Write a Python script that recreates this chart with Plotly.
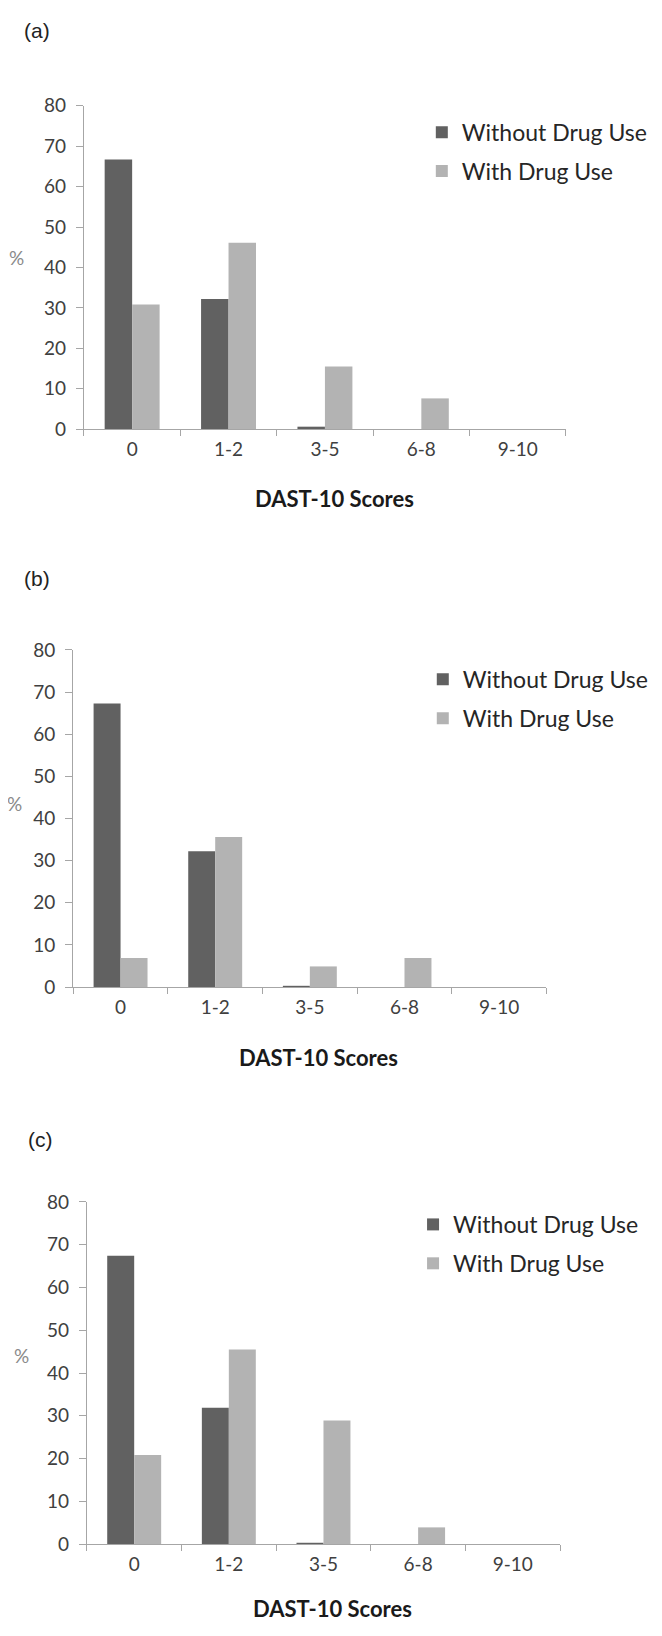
import plotly.graph_objects as go

# The page body has an 8px margin; the figure is sized so the page fits the 662x1636 window.
OFF = 8
W, H = 662 - 2 * OFF, 1636 - 2 * OFF

categories = ["0", "1-2", "3-5", "6-8", "9-10"]
series_names = ["Without Drug Use", "With Drug Use"]

a_without = [66.7, 32.2, 0.6, 0.0, 0.0]
a_with = [30.8, 46.1, 15.5, 7.6, 0.0]

b_without = [67.3, 32.2, 0.3, 0.0, 0.0]
b_with = [6.9, 35.6, 4.9, 6.9, 0.0]

c_without = [67.4, 31.9, 0.3, 0.0, 0.0]
c_with = [20.8, 45.5, 28.9, 3.9, 0.0]

panel_labels = ["(a)", "(b)", "(c)"]
y_ticks = [0, 10, 20, 30, 40, 50, 60, 70, 80]
x_title = "DAST-10 Scores"
y_title = "%"

# page-pixel layout per panel
panels = [
    dict(x0=86, x1=581, yb=423, yt=95, lab=(22, 19), pct=(17, 249), xt=(343, 493), leg=(433, 100)),
    dict(x0=75, x1=561, yb=989, yt=647, lab=(22, 575), pct=(15, 803), xt=(327, 1060), leg=(434, 655)),
    dict(x0=89, x1=575, yb=1554, yt=1207, lab=(26, 1144), pct=(22, 1363), xt=(341, 1619), leg=(424, 1208)),
]
data = [(a_without, a_with), (b_without, b_with), (c_without, c_with)]


def px(x):
    return (x - OFF) / W


def py(y):
    return 1 - (y - OFF) / H


DARK = "#616161"
LIGHT = "#b3b3b3"
AXIS = "#a6a6a6"
TICKFONT = dict(family="Lato", size=19, color="#404040")

fig = go.Figure()
annotations = []
layout = {}
for i, (p, (wo, wi)) in enumerate(zip(panels, data)):
    n = "" if i == 0 else str(i + 1)
    xa, ya = "x" + n, "y" + n
    leg = "legend" + n
    fig.add_trace(go.Bar(x=categories, y=wo, name=series_names[0], marker=dict(color=DARK, line=dict(width=0)),
                         xaxis=xa, yaxis=ya, legend=leg, legendgroup="g1" + n))
    fig.add_trace(go.Bar(x=categories, y=wi, name=series_names[1], marker=dict(color=LIGHT, line=dict(width=0)),
                         xaxis=xa, yaxis=ya, legend=leg, legendgroup="g2" + n))
    layout["xaxis" + n] = dict(domain=[px(p["x0"]), px(p["x1"])], anchor=ya, type="category",
                               showline=True, linecolor=AXIS, linewidth=1.2, ticks="outside",
                               tickson="boundaries", ticklen=6, tickcolor=AXIS, tickwidth=1.2,
                               tickfont=TICKFONT, showgrid=False, zeroline=False,
                               ticklabelstandoff=3, fixedrange=True)
    layout["yaxis" + n] = dict(domain=[py(p["yb"]), py(p["yt"])], anchor=xa, range=[0, 80],
                               tickvals=y_ticks, showline=True, linecolor=AXIS, linewidth=1.2,
                               ticks="outside", ticklen=7, tickcolor=AXIS, tickwidth=1.2,
                               tickfont=TICKFONT, showgrid=False, zeroline=False,
                               ticklabelstandoff=6, fixedrange=True)
    layout[leg] = dict(x=px(p["leg"][0]), y=py(p["leg"][1]), xanchor="left", yanchor="top",
                       font=dict(family="Lato", size=23, color="#262626"), bgcolor="rgba(0,0,0,0)",
                       traceorder="grouped", tracegroupgap=6)
    annotations.append(dict(text=panel_labels[i], x=px(p["lab"][0]), y=py(p["lab"][1]), xref="paper", yref="paper",
                            xanchor="left", yanchor="middle", showarrow=False,
                            font=dict(family="Liberation Sans", size=21, color="#222222")))
    annotations.append(dict(text=y_title, x=px(p["pct"][0]), y=py(p["pct"][1]), xref="paper", yref="paper",
                            xanchor="center", yanchor="middle", showarrow=False,
                            font=dict(family="Lato", size=19, color="#8a8a8a")))
    annotations.append(dict(text="<b>" + x_title + "</b>", x=px(p["xt"][0]), y=py(p["xt"][1]), xref="paper", yref="paper",
                            xanchor="center", yanchor="middle", showarrow=False,
                            font=dict(family="Lato", size=22, color="#1a1a1a")))

fig.update_layout(
    width=W, height=H, margin=dict(l=0, r=0, t=0, b=0),
    paper_bgcolor="white", plot_bgcolor="white",
    barmode="group", bargap=0.43, bargroupgap=0,
    annotations=annotations, showlegend=True,
    **layout,
)

fig.write_html("out.html")
